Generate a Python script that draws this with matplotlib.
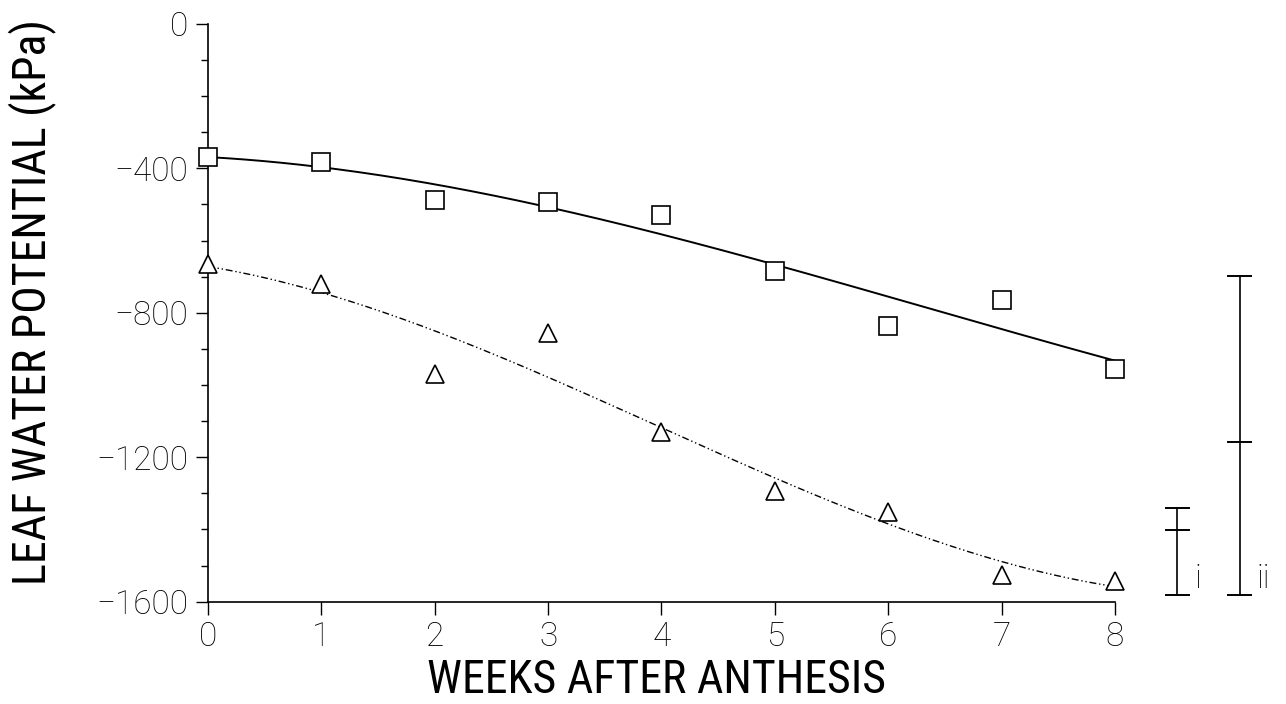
import matplotlib
matplotlib.use("Agg")
import matplotlib.pyplot as plt
import numpy as np
from matplotlib import font_manager

# leaf water potential (kPa) by week after anthesis
weeks = [0, 1, 2, 3, 4, 5, 6, 7, 8]
irrigated = [-369, -382, -488, -493, -529, -684, -836, -765, -955]
stressed = [-665, -720, -969, -856, -1130, -1293, -1351, -1526, -1542]

# LSD bars drawn to the right of the axis
lsd_x = [8.55, 9.1]
lsd_bottom = [-1582, -1582]
lsd_mid = [-1401, -1157]
lsd_top = [-1340, -698]
lsd_labels = ["i", "ii"]

xticks = [0, 1, 2, 3, 4, 5, 6, 7, 8]
yticks = [0, -400, -800, -1200, -1600]


def pick(cands):
    names = {f.name for f in font_manager.fontManager.ttflist}
    for c in cands:
        if c in names:
            return c
    return "DejaVu Sans"


narrow = pick(["Roboto Condensed", "Liberation Sans Narrow", "Roboto"])
plain = pick(["Roboto", "Lato", "DejaVu Sans"])
plt.rcParams["font.family"] = [narrow, "DejaVu Sans"]
plt.rcParams["font.weight"] = "light"

fig = plt.figure(figsize=(12.86, 7.04), dpi=100)
ax = fig.add_axes([0.1617, 0.1453, 0.7053, 0.8209])

xs = np.linspace(0, 8, 200)
fit_top = np.polyval(np.polyfit(weeks, irrigated, 3), xs)
fit_bot = np.polyval(np.polyfit(weeks, stressed, 3), xs)

ax.plot(xs, fit_top, color="black", lw=1.4)
ax.plot(xs, fit_bot, color="black", lw=1.0, dashes=(5, 2, 1, 2, 1, 2))

ax.plot(weeks, irrigated, ls="none", marker="s", ms=13, mfc="white",
        mec="black", mew=1.2, clip_on=False, zorder=3)
ax.plot(weeks, stressed, ls="none", marker="^", ms=13, mfc="white",
        mec="black", mew=1.2, clip_on=False, zorder=3)

for x, b, m, t, lab in zip(lsd_x, lsd_bottom, lsd_mid, lsd_top, lsd_labels):
    ax.plot([x, x], [b, t], color="black", lw=1.2, clip_on=False)
    for yy in (b, m, t):
        ax.plot([x - 0.1, x + 0.1], [yy, yy], color="black", lw=1.4,
                clip_on=False)
    ax.text(x + 0.15, b, lab, fontsize=24, family=[plain, "DejaVu Sans"],
            fontweight="light", ha="left", va="bottom")

ax.set_xlim(0, 8)
ax.set_ylim(-1600, 0)
ax.set_xticks(xticks)
ax.set_yticks(yticks)
ax.set_yticks(np.arange(-1500, 0, 100), minor=True)
ax.set_yticklabels([str(v).replace("-", "\u2212") for v in yticks])
ax.tick_params(axis="both", which="major", direction="out", length=9,
               width=1.0, labelsize=24, pad=5)
ax.tick_params(axis="y", which="minor", direction="out", length=5, width=1.0)
for lab in ax.get_xticklabels() + ax.get_yticklabels():
    lab.set_family([plain, "DejaVu Sans"])
    lab.set_fontweight("light")

for side in ("top", "right"):
    ax.spines[side].set_visible(False)
for side in ("left", "bottom"):
    ax.spines[side].set_linewidth(1.2)

ax.set_xlabel("WEEKS AFTER ANTHESIS", fontsize=33)
ax.set_ylabel("LEAF WATER POTENTIAL (kPa)", fontsize=33)
ax.xaxis.set_label_coords(0.495, -0.097)
ax.yaxis.set_label_coords(-0.168, 0.519)

fig.savefig("out.png", dpi=100)
